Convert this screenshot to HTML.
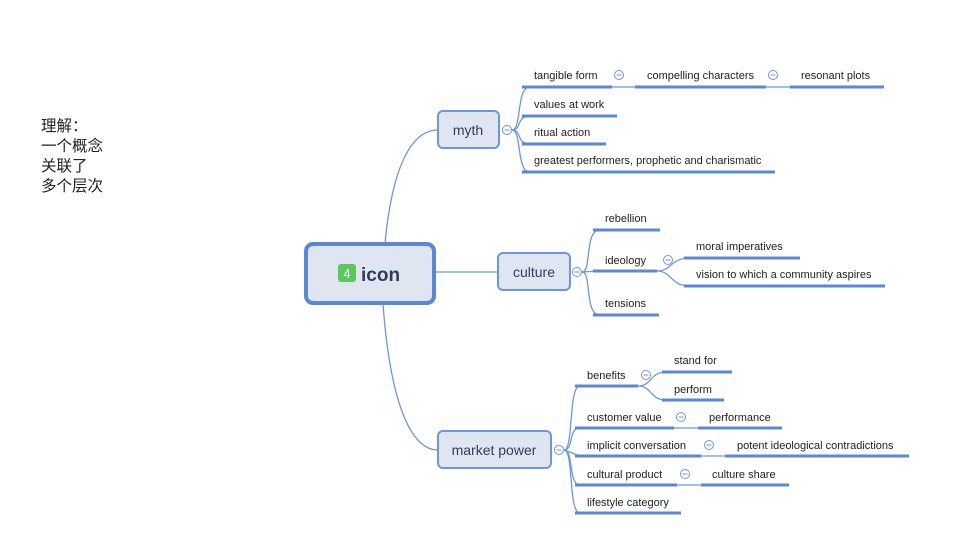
<!DOCTYPE html>
<html><head><meta charset="utf-8"><style>
body{margin:0;background:#fff;width:960px;height:540px;overflow:hidden}
svg text{font-family:"Liberation Sans","Noto Sans CJK SC",sans-serif;fill:#222}
</style></head><body>
<svg width="960" height="540" xmlns="http://www.w3.org/2000/svg">
<g font-size="15.5">
<text x="41" y="131">理解：</text>
<text x="41" y="151">一个概念</text>
<text x="41" y="171">关联了</text>
<text x="41" y="191">多个层次</text>
</g>
<g fill="none" stroke="#6d97dc" stroke-width="1.3">
<path d="M385,243 C392,170 410,130 438,130"/>
<path d="M435,272 L498,272"/>
<path d="M383,304 C390,400 410,450 438,450"/>
<path d="M512,130 C522,130 516,87 530,87"/>
<path d="M512,130 C522,130 516,116 530,116"/>
<path d="M512,130 C522,130 516,144 530,144"/>
<path d="M512,130 C522,130 516,172 530,172"/>
<path d="M612,87 L635,87"/><path d="M766,87 L790,87"/>
<path d="M582,272 C592,272 584,230 600,230"/>
<path d="M582,272 L600,271"/>
<path d="M582,272 C592,272 584,315 600,315"/>
<path d="M657,271 C672,271 670,258 690,258"/>
<path d="M657,271 C672,271 670,286 690,286"/>
<path d="M564,450 C574,450 568,386 580,386"/>
<path d="M564,450 C574,450 568,428 580,428"/>
<path d="M564,450 L580,456"/>
<path d="M564,450 C574,450 568,485 580,485"/>
<path d="M564,450 C574,450 568,513 580,513"/>
<path d="M638,386 C652,386 650,372 666,372"/>
<path d="M638,386 C652,386 650,400 666,400"/>
<path d="M674,428 L698,428"/><path d="M701,456 L725,456"/><path d="M677,485 L701,485"/>
</g>
<g stroke="#5b88d6" stroke-width="3">
<line x1="522" y1="87" x2="612" y2="87"/><line x1="635" y1="87" x2="766" y2="87"/><line x1="790" y1="87" x2="884" y2="87"/>
<line x1="522" y1="116" x2="617" y2="116"/><line x1="522" y1="144" x2="606" y2="144"/><line x1="522" y1="172" x2="775" y2="172"/>
<line x1="593" y1="230" x2="660" y2="230"/><line x1="593" y1="271" x2="657" y2="271"/><line x1="593" y1="315" x2="659" y2="315"/>
<line x1="684" y1="258" x2="800" y2="258"/><line x1="684" y1="286" x2="885" y2="286"/>
<line x1="575" y1="386" x2="638" y2="386"/><line x1="662" y1="372" x2="732" y2="372"/><line x1="662" y1="400" x2="724" y2="400"/>
<line x1="575" y1="428" x2="674" y2="428"/><line x1="698" y1="428" x2="782" y2="428"/>
<line x1="575" y1="456" x2="701" y2="456"/><line x1="725" y1="456" x2="909" y2="456"/>
<line x1="575" y1="485" x2="677" y2="485"/><line x1="701" y1="485" x2="789" y2="485"/>
<line x1="575" y1="513" x2="681" y2="513"/>
</g>
<g fill="#dfe6f2" stroke="#6d97dc">
<rect x="306" y="244" width="128" height="59" rx="7" stroke-width="4" stroke="#5b88d6"/>
<rect x="438" y="111" width="61" height="37" rx="5" stroke-width="2"/>
<rect x="498" y="253" width="72" height="37" rx="5" stroke-width="2"/>
<rect x="438" y="431" width="113" height="37" rx="5" stroke-width="2"/>
</g>
<g fill="#fff" stroke="#6d97dc" stroke-width="1">
<circle cx="507" cy="130" r="4.5"/><circle cx="577" cy="272" r="4.5"/><circle cx="559" cy="450" r="4.5"/>
<circle cx="619" cy="75" r="4.5"/><circle cx="773" cy="75" r="4.5"/><circle cx="668" cy="260" r="4.5"/>
<circle cx="646" cy="375" r="4.5"/><circle cx="681" cy="417" r="4.5"/><circle cx="709" cy="445" r="4.5"/><circle cx="685" cy="474" r="4.5"/>
</g>
<g stroke="#6d97dc" stroke-width="1">
<path d="M504.5,130h5M574.5,272h5M556.5,450h5M616.5,75h5M770.5,75h5M665.5,260h5M643.5,375h5M678.5,417h5M706.5,445h5M682.5,474h5"/>
</g>
<rect x="338" y="264" width="18" height="18" rx="3" fill="#5cc85c"/>
<text x="347" y="278" font-size="13" text-anchor="middle" style="fill:#fff">4</text>
<text x="361" y="281" font-size="19" font-weight="bold" style="fill:#2e3d5c">icon</text>
<g font-size="14" text-anchor="middle">
<text x="468" y="135" style="fill:#2e3d5c">myth</text>
<text x="534" y="277" style="fill:#2e3d5c">culture</text>
<text x="494" y="455" style="fill:#2e3d5c">market power</text>
</g>
<g font-size="11">
<text x="534" y="79">tangible form</text><text x="647" y="79">compelling characters</text><text x="801" y="79">resonant plots</text>
<text x="534" y="108">values at work</text><text x="534" y="136">ritual action</text>
<text x="534" y="164">greatest performers, prophetic and charismatic</text>
<text x="605" y="222">rebellion</text><text x="605" y="264">ideology</text><text x="605" y="307">tensions</text>
<text x="696" y="250">moral imperatives</text><text x="696" y="278">vision to which a community aspires</text>
<text x="587" y="379">benefits</text><text x="674" y="364">stand for</text><text x="674" y="393">perform</text>
<text x="587" y="421">customer value</text><text x="709" y="421">performance</text>
<text x="587" y="449">implicit conversation</text><text x="737" y="449">potent ideological contradictions</text>
<text x="587" y="478">cultural product</text><text x="712" y="478">culture share</text>
<text x="587" y="506">lifestyle category</text>
</g>
</svg>
</body></html>
